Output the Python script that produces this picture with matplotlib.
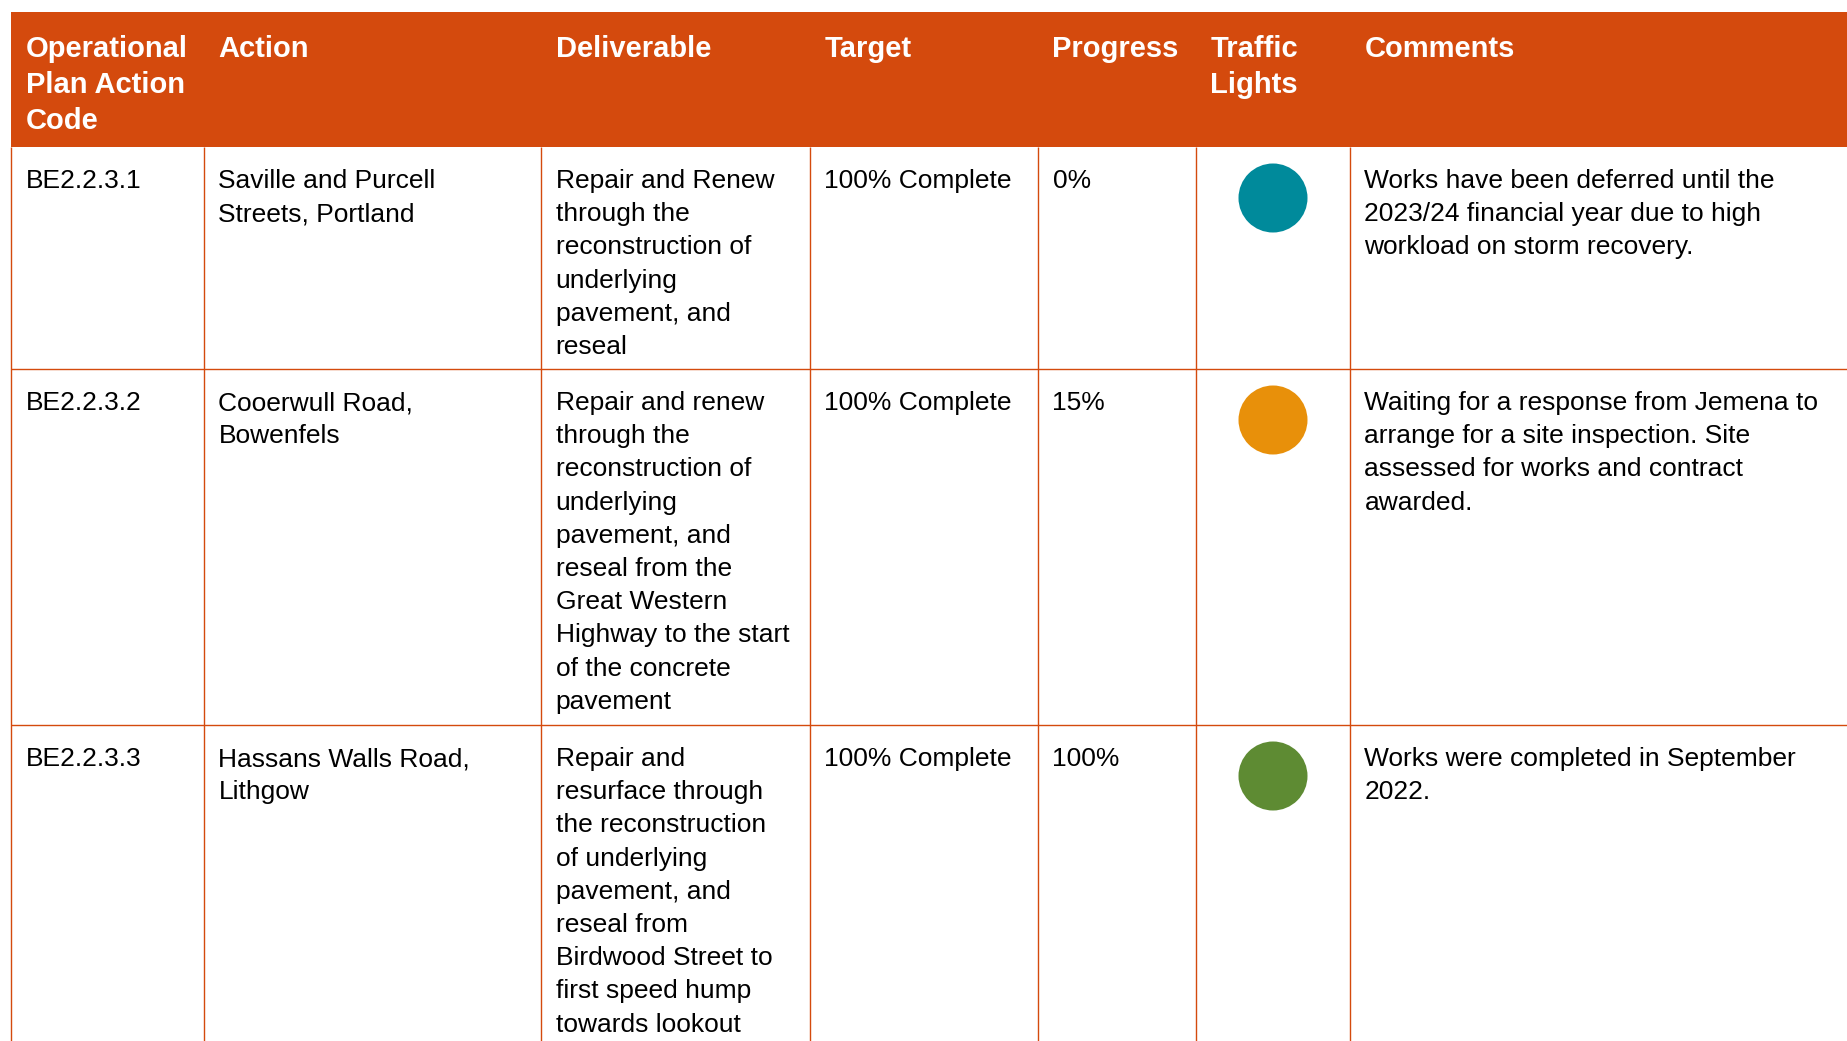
import matplotlib
matplotlib.use("Agg")
import matplotlib.pyplot as plt
from matplotlib.patches import Rectangle, Circle

# ---- data ----
headers = ["Operational\nPlan Action\nCode", "Action", "Deliverable", "Target",
           "Progress", "Traffic\nLights", "Comments"]
codes = ["BE2.2.3.1", "BE2.2.3.2", "BE2.2.3.3"]
actions = ["Saville and Purcell\nStreets, Portland",
           "Cooerwull Road,\nBowenfels",
           "Hassans Walls Road,\nLithgow"]
deliverables = [
    "Repair and Renew\nthrough the\nreconstruction of\nunderlying\npavement, and\nreseal",
    "Repair and renew\nthrough the\nreconstruction of\nunderlying\npavement, and\nreseal from the\nGreat Western\nHighway to the start\nof the concrete\npavement",
    "Repair and\nresurface through\nthe reconstruction\nof underlying\npavement, and\nreseal from\nBirdwood Street to\nfirst speed hump\ntowards lookout",
]
targets = ["100% Complete", "100% Complete", "100% Complete"]
progress = ["0%", "15%", "100%"]
lights = ["#008A9B", "#E8900A", "#5E8B33"]
comments = [
    "Works have been deferred until the\n2023/24 financial year due to high\nworkload on storm recovery.",
    "Waiting for a response from Jemena to\narrange for a site inspection. Site\nassessed for works and contract\nawarded.",
    "Works were completed in September\n2022.",
]

# ---- layout (pixels) ----
W, H = 1847, 1041
ORANGE = "#D44A0D"
col_x = [11, 204, 541, 810, 1038, 1196, 1350, 1900]
top, head_bot = 12, 147
row_y = [147, 369, 725, 1100]
pad = 14.5
body_fs, head_fs = 19.0, 21.0
body_pitch, head_pitch = 33.2, 35.8
font = "Liberation Sans"

fig = plt.figure(figsize=(W / 100, H / 100), dpi=100)
ax = fig.add_axes([0, 0, 1, 1])
ax.set_xlim(0, W)
ax.set_ylim(H, 0)
ax.set_aspect("equal")
ax.axis("off")

# header band
ax.add_patch(Rectangle((col_x[0], top), col_x[-1] - col_x[0], head_bot - top,
                       facecolor=ORANGE, edgecolor="none"))

def put_lines(x, y0, text, pitch, **kw):
    for i, line in enumerate(text.split("\n")):
        ax.text(x, y0 + i * pitch, line, va="baseline", ha="left",
                family=font, **kw)

for j, h in enumerate(headers):
    put_lines(col_x[j] + pad, top + 45, h, head_pitch, fontsize=head_fs,
              color="white", fontweight="bold")

# grid lines
lw = 1.0
for x in col_x[:-1]:
    ax.plot([x, x], [head_bot, H + 5], color=ORANGE, lw=lw, solid_capstyle="butt")
for y in row_y[1:-1]:
    ax.plot([col_x[0], W + 5], [y, y], color=ORANGE, lw=lw, solid_capstyle="butt")

# body rows
for r in range(len(codes)):
    y0 = row_y[r] + 41
    cells = [codes[r], actions[r], deliverables[r], targets[r], progress[r], None, comments[r]]
    for j, c in enumerate(cells):
        if c is None:
            continue
        put_lines(col_x[j] + pad, y0, c, body_pitch, fontsize=body_fs, color="black")
    cx = (col_x[5] + col_x[6]) / 2
    ax.add_patch(Circle((cx, row_y[r] + 51), 34.5, facecolor=lights[r], edgecolor="none"))

fig.savefig("out.png", dpi=100)
